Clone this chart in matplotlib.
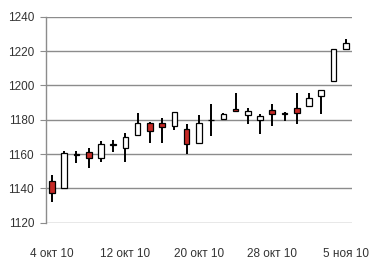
import matplotlib
matplotlib.use("Agg")
import matplotlib.pyplot as plt
from matplotlib.patches import Rectangle

# trading days, 4 Oct - 5 Nov 2010
dates = ["4 окт 10", "5 окт", "6 окт", "7 окт", "8 окт", "11 окт", "12 окт 10",
         "13 окт", "14 окт", "15 окт", "18 окт", "19 окт", "20 окт 10",
         "21 окт", "22 окт", "25 окт", "26 окт", "27 окт", "28 окт 10",
         "29 окт", "1 ноя", "2 ноя", "3 ноя", "4 ноя", "5 ноя 10"]
opens = [1144.3, 1140.4, 1160.0, 1161.4, 1157.9, 1165.5, 1163.3,
         1171.1, 1177.9, 1178.3, 1176.5, 1174.4, 1166.6,
         1179.6, 1180.2, 1186.2, 1182.9, 1179.8, 1185.7,
         1183.5, 1187.0, 1188.0, 1194.0, 1202.7, 1221.0]
closes = [1137.1, 1160.8, 1159.6, 1157.5, 1165.6, 1165.9, 1169.7,
          1177.9, 1173.6, 1175.9, 1184.7, 1165.8, 1177.9,
          1180.0, 1183.1, 1185.2, 1185.2, 1182.3, 1183.1,
          1183.9, 1184.1, 1192.5, 1197.3, 1221.0, 1224.9]
highs = [1147.8, 1161.5, 1161.8, 1163.5, 1167.6, 1168.2, 1172.1,
         1184.1, 1178.8, 1180.8, 1184.7, 1177.3, 1182.7,
         1189.0, 1183.7, 1195.7, 1186.6, 1183.3, 1189.1,
         1184.7, 1195.4, 1195.4, 1197.3, 1221.0, 1226.8]
lows = [1132.1, 1140.4, 1154.8, 1151.9, 1155.5, 1161.4, 1155.5,
        1171.1, 1166.6, 1166.6, 1174.0, 1160.0, 1166.6,
        1170.7, 1180.2, 1185.2, 1177.3, 1171.5, 1176.5,
        1179.4, 1177.3, 1188.0, 1183.1, 1202.7, 1221.0]
tick_every = 6

plt.rcParams['font.family'] = ['Liberation Sans', 'DejaVu Sans']

fig = plt.figure(figsize=(3.7, 2.59), dpi=100)
ax = fig.add_axes([0.124, 0.14, 0.827, 0.7955])

grid_col = "#8c8c8c"
text_col = "#333333"
up_col = "white"
down_col = "#c62a26"
w = 0.46

for i in range(len(dates)):
    o, c, h, l = opens[i], closes[i], highs[i], lows[i]
    ax.plot([i, i], [l, h], color="black", lw=1.4, zorder=3, solid_capstyle="butt")
    lo, hi = min(o, c), max(o, c)
    body = Rectangle((i - w / 2, lo), w, max(hi - lo, 0.4),
                     facecolor=up_col if c >= o else down_col,
                     edgecolor="black", lw=0.9, zorder=4)
    ax.add_patch(body)

ax.set_xlim(-0.5, len(dates) - 0.5)
ax.set_ylim(1120, 1240)
ax.set_yticks(range(1120, 1241, 20))
ax.yaxis.grid(True, color=grid_col, lw=1.0)
ax.set_axisbelow(True)

ticks = list(range(0, len(dates), tick_every))
ax.set_xticks(ticks)
ax.set_xticklabels([dates[t] for t in ticks])

for s in ["top", "right", "bottom"]:
    ax.spines[s].set_visible(False)
ax.spines["left"].set_color(grid_col)
ax.spines["left"].set_linewidth(1.0)
ax.tick_params(axis="y", length=4.5, color=grid_col, labelsize=8.5, pad=4,
               labelcolor=text_col)
ax.tick_params(axis="x", length=0, labelsize=8.5, pad=18, labelcolor=text_col)

fig.savefig("out.png", dpi=100)
